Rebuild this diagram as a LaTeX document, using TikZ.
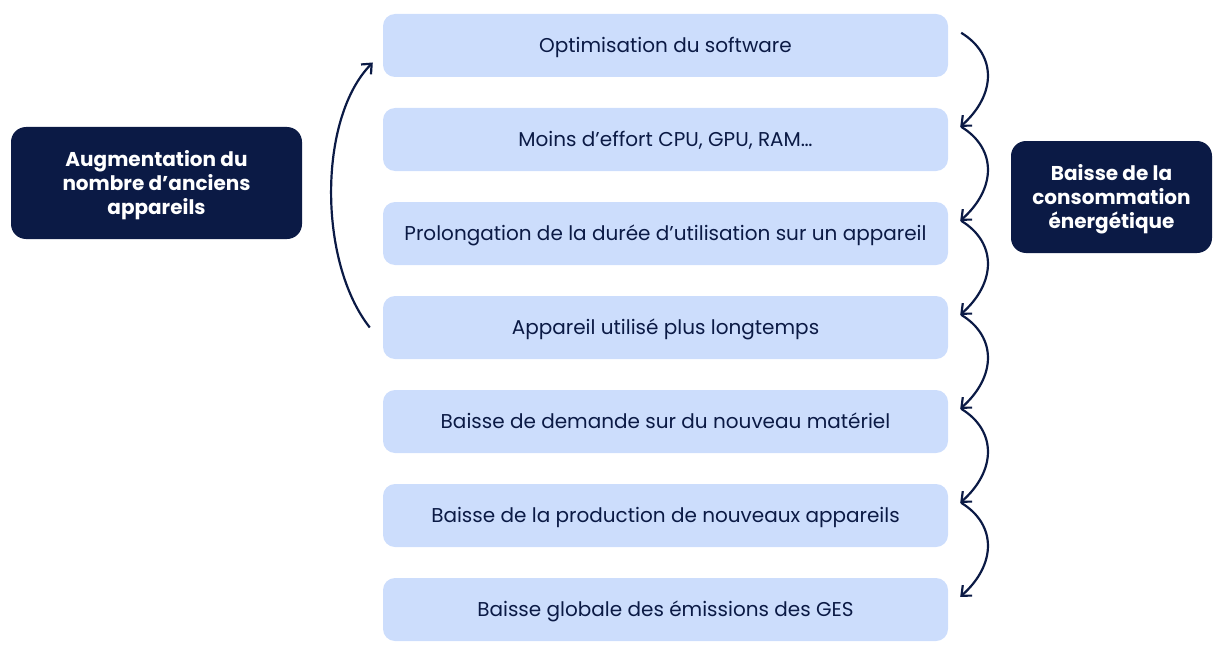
\documentclass[tikz,border=0pt]{standalone}
\usepackage{fontspec}
\setmainfont{Poppins}
\usetikzlibrary{arrows.meta}
\definecolor{navy}{HTML}{0B1A45}
\definecolor{lblue}{HTML}{CCDDFC}
\begin{document}
\begin{tikzpicture}[x=1pt,y=-1pt,
  step box/.style={fill=lblue,rounded corners=12pt,minimum width=565pt,minimum height=63pt,inner sep=0pt,text=navy,text height=17pt,text depth=3pt,font=\fontsize{20}{24}\selectfont},
  dark box/.style={fill=navy,rounded corners=15pt,inner sep=0pt,text=white,align=center,text depth=1pt,font=\fontsize{20}{24}\selectfont\bfseries},
  arr/.style={draw=navy,line width=2.2pt,-{Straight Barb[length=8pt,width=14pt,line width=2.2pt]}}]
\useasboundingbox (0,0) rectangle (1225,658);
\node[step box] (b0) at (665.5,45.5) {Optimisation du software};
\node[step box] (b1) at (665.5,139.5) {Moins d’effort CPU, GPU, RAM…};
\node[step box] (b2) at (665.5,233.5) {Prolongation de la durée d’utilisation sur un appareil};
\node[step box] (b3) at (665.5,327.5) {Appareil utilisé plus longtemps};
\node[step box] (b4) at (665.5,421.5) {Baisse de demande sur du nouveau matériel};
\node[step box] (b5) at (665.5,515.5) {Baisse de la production de nouveaux appareils};
\node[step box] (b6) at (665.5,609.5) {Baisse globale des émissions des GES};
\node[dark box,minimum width=291pt,minimum height=112pt] (L) at (156.5,183) {Augmentation du\\nombre d’anciens\\appareils};
\node[dark box,minimum width=201pt,minimum height=112pt] (R) at (1111.5,197) {Baisse de la\\consommation\\énergétique};
\foreach \i/\j in {0/1,1/2,2/3,3/4,4/5,5/6}{
  \coordinate (s\i) at ([xshift=13pt,yshift=-19pt]b\i.north east);
  \coordinate (e\i) at ([xshift=12pt,yshift=-19pt]b\j.north east);
  \draw[arr] (s\i) .. controls ([xshift=36pt,yshift=-22pt]s\i) and ([xshift=36pt,yshift=32pt]e\i) .. (e\i);
}
\coordinate (ls) at ([xshift=-13pt]b3.west);
\coordinate (le) at ([xshift=-10pt,yshift=-17pt]b0.west);
\draw[arr] (ls) .. controls (318,262) and (318,118) .. (le);
\end{tikzpicture}
\end{document}
